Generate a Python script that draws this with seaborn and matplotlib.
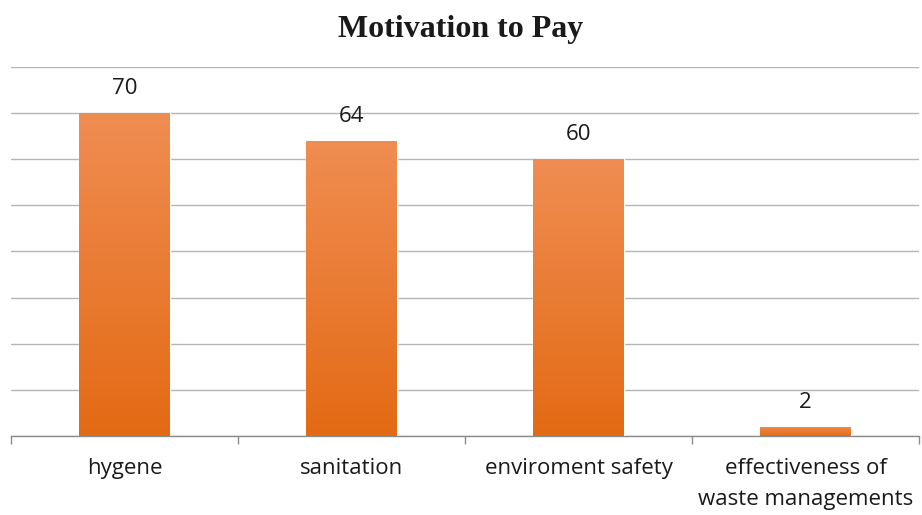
import numpy as np
import pandas as pd
import matplotlib
matplotlib.use("Agg")
import matplotlib.pyplot as plt
import seaborn as sns
from matplotlib.colors import LinearSegmentedColormap

categories = ["hygene", "sanitation", "enviroment safety", "effectiveness of\nwaste managements"]
values = [70, 64, 60, 2]
title = "Motivation to Pay"

sns.set_theme(style="white")
plt.rcParams['font.family'] = ['Open Sans', 'DejaVu Sans']

df = pd.DataFrame({"category": categories, "value": values})

fig = plt.figure(figsize=(9.22, 5.15), dpi=100)
ax = fig.add_axes([11/922, 79/515, 908/922, 369/515])

sns.barplot(data=df, x="category", y="value", color="#EC7A35", width=0.4, ax=ax,
            saturation=1, zorder=3)

ax.set_ylim(0, 80)
ax.set_xlim(-0.5, len(categories) - 0.5)
ax.set_yticks(np.arange(0, 81, 10))
ax.set_yticklabels([])
ax.tick_params(axis="y", length=0)
ax.grid(axis="y", color="#B5B5B5", linewidth=1.0, zorder=0)
ax.set_axisbelow(True)
for s in ["left", "right", "top"]:
    ax.spines[s].set_visible(False)
ax.spines["bottom"].set_color("#8C8C8C")
ax.spines["bottom"].set_linewidth(1.0)

# category boundary ticks
ax.set_xticks(np.arange(-0.5, len(categories), 1.0), minor=True)
ax.tick_params(axis="x", which="minor", length=6, color="#8C8C8C", width=1, direction="out", bottom=True)
ax.tick_params(axis="x", which="major", length=0, pad=16, labelsize=16, labelcolor="#1a1a1a")
for lbl in ax.get_xticklabels():
    lbl.set_linespacing(1.6)
ax.set_xlabel("")
ax.set_ylabel("")

# gradient fill on bars
cmap = LinearSegmentedColormap.from_list("og", ["#E36A14", "#F08D52"])
grad = np.linspace(0, 1, 256).reshape(-1, 1)
for p in ax.patches:
    x0, y0 = p.get_x(), p.get_y()
    w, h = p.get_width(), p.get_height()
    im = ax.imshow(grad, cmap=cmap, origin="lower", aspect="auto",
                   extent=[x0, x0 + w, y0, y0 + h], zorder=3.5)
    im.set_clip_path(p)
ax.set_xlim(-0.5, len(categories) - 0.5)
ax.set_ylim(0, 80)

for p, v in zip(ax.patches, values):
    ax.annotate(str(v), (p.get_x() + p.get_width() / 2, p.get_height()),
                xytext=(0, 10), textcoords="offset points", ha="center", va="bottom",
                fontsize=16, color="#1a1a1a")

fig.text(0.5, 1 - 30/515, title, ha="center", va="center",
         fontsize=23, fontweight="bold", family=["Liberation Serif", "DejaVu Serif"], color="#1a1a1a")

fig.savefig("out.png", dpi=100, facecolor="white")
